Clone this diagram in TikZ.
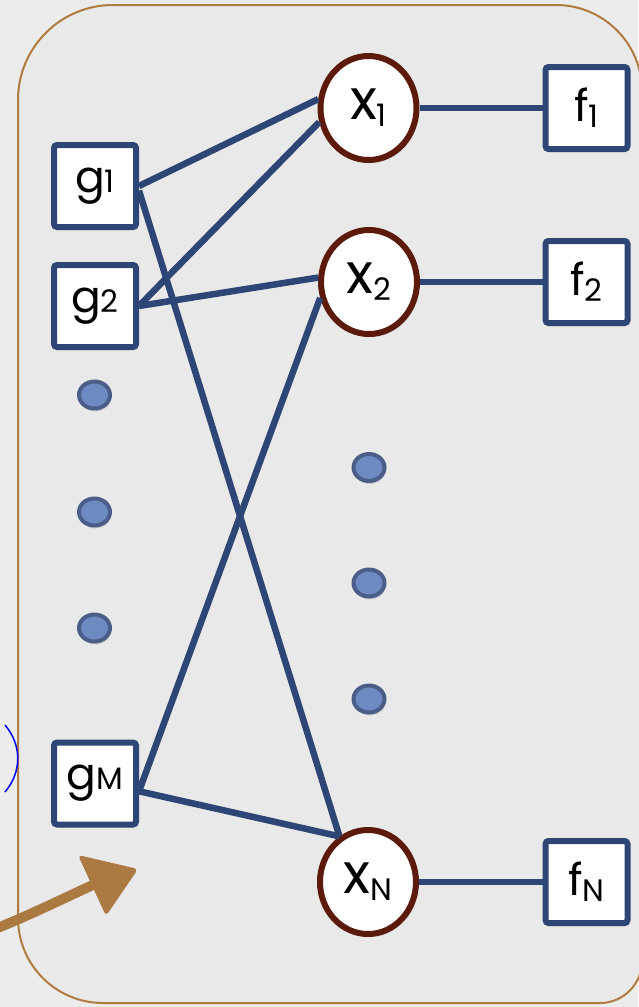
\documentclass[tikz,border=0pt]{standalone}
\usepackage{fontspec}
\setmainfont{Poppins}
\usetikzlibrary{shapes.geometric,shadows}
\definecolor{navy}{HTML}{2D4675}
\definecolor{brownc}{HTML}{5C1A0B}
\definecolor{dotf}{HTML}{6E8AC2}
\definecolor{dotb}{HTML}{4B5E88}
\definecolor{bordc}{HTML}{B07B3E}
\definecolor{arrowc}{HTML}{AA7A42}
\definecolor{bgc}{HTML}{ECECEC}
\definecolor{bgin}{HTML}{E9E9E9}
% #1 main letter, #2 subscript, #3 raise, #4 main size
\newcommand\lab[4]{{\fontsize{#4}{#4}\selectfont #1}{\fontsize{31}{31}\selectfont\raisebox{#3}{#2}}}
\begin{document}
\begin{tikzpicture}[x=1pt,y=-1pt,
  gbox/.style={draw=navy, line width=6pt, fill=white, rounded corners=3pt,
    minimum width=82pt, minimum height=82pt, inner sep=0pt,
    drop shadow={opacity=0.25, shadow xshift=2pt, shadow yshift=-3pt}},
  xnode/.style={ellipse, draw=brownc, line width=6pt, fill=white,
    minimum width=96pt, minimum height=104pt, inner sep=0pt,
    drop shadow={opacity=0.25, shadow xshift=2pt, shadow yshift=-3pt}},
  dotn/.style={ellipse, draw=dotb, line width=4pt, fill=dotf,
    minimum width=31pt, minimum height=27pt, inner sep=0pt,
    drop shadow={opacity=0.25, shadow xshift=1pt, shadow yshift=-3pt}},
  conn/.style={draw=navy, line width=6.5pt},
  bord/.style={draw=bordc, line width=2pt, fill=bgin}]
\useasboundingbox (0,0) rectangle (638,1007);
\fill[bgc] (0,0) rectangle (638,1007);
\draw[bord] (18,100) arc(180:270:95) -- (556,5) arc(270:360:86) -- (642,961)
  arc(0:90:42) -- (103,1003) arc(90:180:85) -- cycle;

% nodes
\node[gbox] (g1) at (95,186) {\lab{g}{1}{0pt}{44}};
\node[gbox] (g2) at (95,306) {\lab{g}{2}{0pt}{44}};
\node[gbox] (gM) at (95,783.5) {\lab{g}{M}{0pt}{44}};
\node[xnode] (x1) at (368.5,108) {\lab{x}{1}{-7pt}{56}};
\node[xnode] (x2) at (369,282) {\lab{x}{2}{-7pt}{56}};
\node[xnode] (xN) at (368,882) {\lab{x}{N}{-7pt}{56}};
\node[gbox] (f1) at (586.5,108) {\lab{f}{1}{-6pt}{44}};
\node[gbox] (f2) at (586.5,282) {\lab{f}{2}{-6pt}{44}};
\node[gbox] (fN) at (586.5,882) {\lab{f}{N}{-6pt}{44}};

\node[dotn] (dl1) at (94.5,395) {};
\node[dotn] (dl2) at (94.5,512) {};
\node[dotn] (dl3) at (94.5,628) {};
\node[dotn] (dr1) at (369,467.5) {};
\node[dotn] (dr2) at (369,583) {};
\node[dotn] (dr3) at (369,699) {};

% connectors
\draw[conn] (g1.east) -- (x1.170);
\draw[conn] (g1.-6) -- (xN.122);
\draw[conn] (g2.east) -- (x1.196);
\draw[conn] (g2.east) -- (x2.175);
\draw[conn] (gM.-10) -- (x2.198);
\draw[conn] (gM.-10) -- (xN.122);
\draw[conn] (x1) -- (f1);
\draw[conn] (x2) -- (f2);
\draw[conn] (xN) -- (fN);

% brown hand-drawn arrow
\draw[arrowc, line width=10pt, line cap=round] (-5,929) .. controls (30,915) and (60,900) .. (95,884);
\fill[arrowc, rounded corners=4pt] (78,855) -- (138,869) -- (106,916) -- cycle;

% blue parenthesis
\draw[blue, line width=1.5pt] (5,725) .. controls (22,745) and (22,772) .. (5,792);
\end{tikzpicture}
\end{document}
